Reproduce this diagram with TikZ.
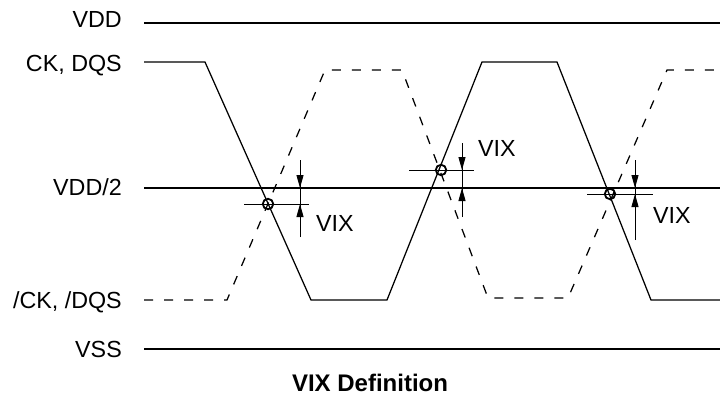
\documentclass[tikz,border=0pt]{standalone}
\usepackage{fontspec}
\setmainfont{Liberation Sans}
\usetikzlibrary{arrows.meta}
\begin{document}
\begin{tikzpicture}[x=1pt,y=-1pt,
  txt/.style={font=\fontsize{23.3}{27}\selectfont, inner sep=0pt},
  ttl/.style={font=\fontsize{24}{28}\selectfont\bfseries, inner sep=0pt},
  rail/.style={line width=1.15pt},
  sig/.style={line width=1.25pt, line join=miter},
  sigd/.style={line width=1.25pt, dash pattern=on 9pt off 11pt},
  hair/.style={line width=0.9pt},
  vtip/.style={line width=0.9pt, -{Triangle[length=13pt,width=7pt]}},
  xcirc/.style={circle, draw, line width=1.8pt, minimum size=10.5pt, inner sep=0pt}
]
\useasboundingbox (0,0) rectangle (720,396);

% labels
\node[txt, anchor=base east] (lvdd) at (122,28) {VDD};
\node[txt, anchor=base east] (lck) at (122,71) {CK, DQS};
\node[txt, anchor=base east] (lhalf) at (122,195.5) {VDD/2};
\node[txt, anchor=base east] (lnck) at (122,308) {/CK, /DQS};
\node[txt, anchor=base east] (lvss) at (122,357) {VSS};
\node[ttl, anchor=base] (title) at (370,391.5) {VIX Definition};

% rails
\coordinate (vddL) at (144,23);  \coordinate (vddR) at (720,23);
\coordinate (halfL) at (144,188); \coordinate (halfR) at (720,188);
\coordinate (vssL) at (144,349); \coordinate (vssR) at (720,349);
\draw[rail] (vddL) -- (vddR);
\draw[rail] (halfL) -- (halfR);
\draw[rail] (vssL) -- (vssR);

% CK, DQS (solid)
\coordinate (s0) at (144,62);
\coordinate (s1) at (205,62);
\coordinate (s2) at (311,300);
\coordinate (s3) at (387,300);
\coordinate (s4) at (482,62);
\coordinate (s5) at (557,62);
\coordinate (s6) at (651,300);
\coordinate (s7) at (720,300);
\draw[sig] (s0) -- (s1) -- (s2) -- (s3) -- (s4) -- (s5) -- (s6) -- (s7);

% /CK, /DQS (dashed)
\coordinate (d0) at (144,300);
\coordinate (d1) at (227,300);
\coordinate (d2) at (325,70);
\coordinate (d3) at (402,70);
\coordinate (d4) at (488,298);
\coordinate (d5) at (568,298);
\coordinate (d6) at (667,70);
\coordinate (d7) at (720,70);
\draw[sigd] (d0) -- (d1) -- (d2) -- (d3) -- (d4) -- (d5) -- (d6) -- (d7);

% crossing 1
\node[xcirc] (c1) at (268,204) {};
\coordinate (h1a) at (244,204); \coordinate (h1b) at (309,204);
\coordinate (v1t) at (300,160); \coordinate (v1b) at (300,237);
\coordinate (a1t) at (300,188); \coordinate (a1b) at (300,204);
\draw[hair] (h1a) -- (h1b);
\draw[hair] (v1t) -- (v1b);
\draw[vtip] (v1t) -- (a1t);
\draw[vtip] (v1b) -- (a1b);
\node[txt, anchor=base west] (vix1) at (316,231) {VIX};

% crossing 2
\node[xcirc] (c2) at (441,170) {};
\coordinate (h2a) at (409,170); \coordinate (h2b) at (474,170);
\coordinate (v2t) at (462,143); \coordinate (v2b) at (462,217);
\coordinate (a2t) at (462,170); \coordinate (a2b) at (462,188);
\draw[hair] (h2a) -- (h2b);
\draw[hair] (v2t) -- (v2b);
\draw[vtip] (v2t) -- (a2t);
\draw[vtip] (v2b) -- (a2b);
\node[txt, anchor=base west] (vix2) at (478,156) {VIX};

% crossing 3
\node[xcirc] (c3) at (610,194) {};
\coordinate (h3a) at (587,194); \coordinate (h3b) at (653,194);
\coordinate (v3t) at (635,160); \coordinate (v3b) at (635,240);
\coordinate (a3t) at (635,188); \coordinate (a3b) at (635,194);
\draw[hair] (h3a) -- (h3b);
\draw[hair] (v3t) -- (v3b);
\draw[vtip] (v3t) -- (a3t);
\draw[vtip] (v3b) -- (a3b);
\node[txt, anchor=base west] (vix3) at (653,223) {VIX};
\end{tikzpicture}
\end{document}
